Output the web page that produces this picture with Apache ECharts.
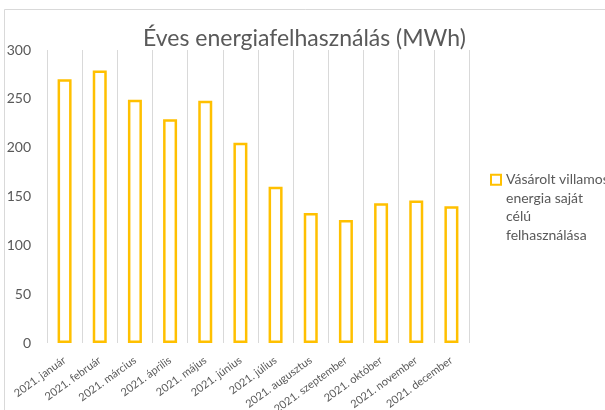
<!DOCTYPE html>
<html>
<head>
<meta charset="utf-8">
<script src="https://cdn.jsdelivr.net/npm/echarts@6/dist/echarts.min.js"></script>
<style>
html,body{margin:0;padding:0;background:#fff;}
#chart{width:605px;height:410px;}
</style>
</head>
<body>
<div id="chart"></div>
<script>
const categories = ['2021. január','2021. február','2021. március','2021. április','2021. május','2021. június','2021. július','2021. augusztus','2021. szeptember','2021. október','2021. november','2021. december'];
const values = [270, 279, 249, 229, 248, 205, 160, 133, 126, 143, 146, 140];
const yTicks = [0, 50, 100, 150, 200, 250, 300];
const seriesName = 'Vásárolt villamos energia saját célú felhasználása';
const legendLines = ['Vásárolt villamos', 'energia saját', 'célú', 'felhasználása'];
const titleText = 'Éves energiafelhasználás (MWh)';

const chart = echarts.init(document.getElementById('chart'), null, {renderer:'canvas'});
const font = 'Lato, "Open Sans", sans-serif';
chart.setOption({
  animation:false,
  backgroundColor:'#fff',
  graphic:[{type:'rect', shape:{x:4.5,y:9.5,width:800,height:600}, style:{fill:'none', stroke:'#d9d9d9', lineWidth:1}, silent:true}],
  title:{text:titleText, left:138, top:22, textStyle:{fontFamily:font, fontSize:23, fontWeight:'normal', color:'#595959'}},
  legend:{
    left:490, top:115, padding:0, orient:'vertical', icon:'rect', itemWidth:10, itemHeight:10, itemGap:0,
    data:[seriesName],
    formatter: function(){ return '\n\n\n' + legendLines.join('\n'); },
    textStyle:{fontFamily:font, fontSize:14, color:'#595959', lineHeight:18.5}
  },
  grid:{left:47, right:136, top:50, bottom:67, containLabel:false, outerBoundsMode:'none'},
  xAxis:{
    type:'category', data:categories,
    axisLine:{show:false}, axisTick:{show:false},
    splitLine:{show:true, lineStyle:{color:'#d9d9d9', width:1}},
    axisLabel:{rotate:36, margin:16, fontFamily:font, fontSize:11, color:'#595959', interval:0}
  },
  yAxis:{
    type:'value', min:yTicks[0], max:yTicks[yTicks.length-1], interval:50,
    axisLine:{show:false}, axisTick:{show:false}, splitLine:{show:false},
    axisLabel:{margin:16, fontFamily:font, fontSize:14, color:'#595959'}
  },
  series:[{
    name:seriesName, type:'bar', data:values, barWidth:14,
    itemStyle:{color:'#ffffff', borderColor:'#FFC000', borderWidth:2.5}
  }]
});
</script>
</body>
</html>
